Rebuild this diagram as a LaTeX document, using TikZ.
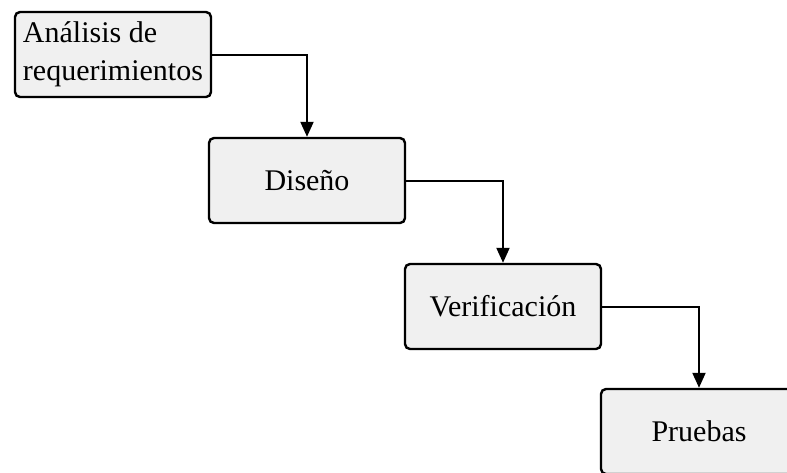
\documentclass[tikz,border=0pt]{standalone}
\usepackage{fontspec}
\setmainfont{Liberation Serif}
\usetikzlibrary{arrows.meta}

\begin{document}
\begin{tikzpicture}[
        x=0.5pt,
        y=-0.5pt,
        every node/.style={font=\fontsize{15}{18.85}\selectfont},
        stagebox/.style={draw, line width=1.2pt, rounded corners=2.5pt, fill=black!6,
            minimum width=98pt, minimum height=42.5pt, inner sep=4pt},
        flow/.style={line width=1pt, -{Triangle[length=7.5pt, width=6.5pt]}}
    ]
        \useasboundingbox (0,0) rectangle (787,472);

        % Stages
        \node[stagebox, text width=90pt, align=flush left] (analisis) at (113,54.5){Análisis de\\requerimientos};
        \node[stagebox] (diseno) at (307,180.5){Diseño};
        \node[stagebox] (verificacion) at (503,306.5){Verificación};
        \node[stagebox] (pruebas) at (699,431.5){Pruebas};

        % Connectors
        \draw[flow] (analisis.east) -| (diseno.north);
        \draw[flow] (diseno.east) -| (verificacion.north);
        \draw[flow] (verificacion.east) -| (pruebas.north);
    \end{tikzpicture}
\end{document}
